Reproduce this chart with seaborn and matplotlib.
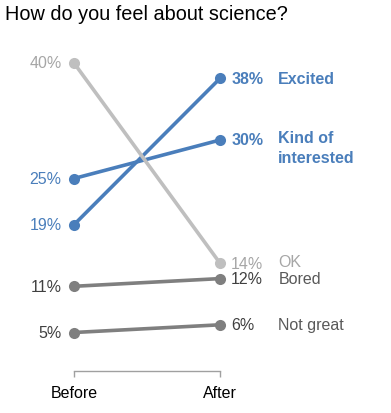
import pandas as pd
import matplotlib.pyplot as plt
import seaborn as sns

# survey answers, before and after
categories = ['Excited', 'Kind of\ninterested', 'OK', 'Bored', 'Not great']
before = [19, 25, 40, 11, 5]
after = [38, 30, 14, 12, 6]
periods = ['Before', 'After']

line_colors = ['#4A7EBB', '#4A7EBB', '#BFBFBF', '#7F7F7F', '#7F7F7F']
text_colors = ['#4A7EBB', '#4A7EBB', '#A6A6A6', '#404040', '#404040']
name_colors = ['#4A7EBB', '#4A7EBB', '#A6A6A6', '#595959', '#595959']
bold = [True, True, False, False, False]

rows = []
for i, cat in enumerate(categories):
    rows.append({'period': periods[0], 'pct': before[i], 'cat': cat})
    rows.append({'period': periods[1], 'pct': after[i], 'cat': cat})
df = pd.DataFrame(rows)
df['x'] = df['period'].map({'Before': 0, 'After': 1})

sns.set_style('white')
plt.rcParams['font.family'] = ['Liberation Sans', 'DejaVu Sans']

fig = plt.figure(figsize=(3.91, 4.14), dpi=100)
ax = fig.add_axes([74 / 391, 1 - 372 / 414, 146 / 391, 308 / 414])

sns.lineplot(data=df, x='x', y='pct', hue='cat', palette=dict(zip(categories, line_colors)),
             marker='o', markersize=8, markeredgewidth=0, linewidth=2.6,
             legend=False, ax=ax)
for line in ax.lines:
    line.set_clip_on(False)

ax.set_xlim(0, 1)
ax.set_ylim(0, 40)

fs = 11.5
for i, cat in enumerate(categories):
    w = 'bold' if bold[i] else 'normal'
    ax.annotate(f'{before[i]}%', xy=(0, before[i]), xytext=(-9, 0), textcoords='offset points',
                ha='right', va='center', fontsize=fs, color=text_colors[i])
    dy = 1 if cat == 'OK' else 0
    ax.annotate(f'{after[i]}%', xy=(1, after[i]), xytext=(8, 0), textcoords='offset points',
                ha='left', va='center', fontsize=fs, color=text_colors[i], fontweight=w)
    if '\n' in cat:
        ax.annotate(cat, xy=(1, after[i]), xytext=(42, 7.5), textcoords='offset points',
                    ha='left', va='top', fontsize=fs, color=name_colors[i], fontweight=w,
                    linespacing=1.45)
    else:
        ax.annotate(cat, xy=(1, after[i]), xytext=(42, dy), textcoords='offset points',
                    ha='left', va='center', fontsize=fs, color=name_colors[i], fontweight=w)

ax.set_xticks([0, 1])
ax.set_xticklabels(periods, fontsize=11.5, color='black')
ax.set_yticks([])
ax.set_xlabel('')
ax.set_ylabel('')
sns.despine(ax=ax, left=True)
ax.spines['bottom'].set_color('#A0A0A0')
ax.spines['bottom'].set_linewidth(1)
ax.tick_params(axis='x', bottom=True, direction='out', length=4, width=1,
               color='#A0A0A0', pad=6)

fig.text(5 / 391, 1 - 14 / 414, 'How do you feel about science?', fontsize=14.3,
         ha='left', va='center', color='black')

fig.savefig('out.png', dpi=100)
